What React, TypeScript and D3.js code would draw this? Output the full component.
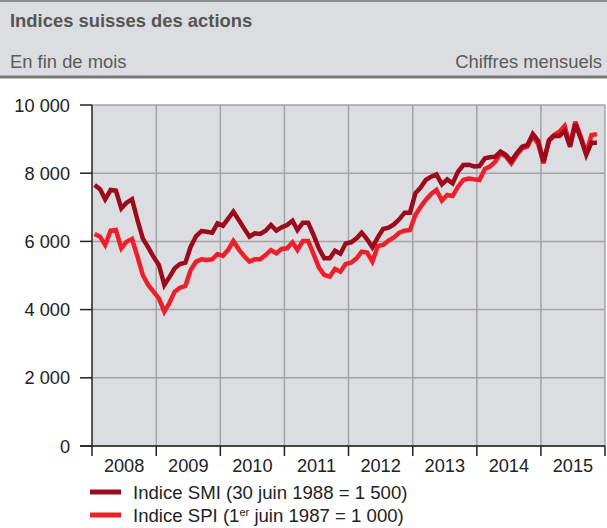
import React from "react";
import * as d3 from "d3";

const years = ["2008", "2009", "2010", "2011", "2012", "2013", "2014", "2015"];
const yTicks = [0, 2000, 4000, 6000, 8000, 10000];
const startYear = 2008;

const smi = [
  7654, 7527, 7234, 7507, 7488, 6970, 7136, 7234, 6628, 6090, 5826, 5552,
  5308, 4721, 4946, 5210, 5337, 5376, 5845, 6158, 6305, 6285, 6256, 6530,
  6461, 6676, 6872, 6628, 6383, 6139, 6237, 6217, 6315, 6481, 6315, 6413,
  6481, 6608, 6334, 6549, 6549, 6188, 5797, 5503, 5503, 5728, 5640, 5940,
  5973, 6090, 6256, 6061, 5826, 6119, 6364, 6403, 6500, 6647, 6843, 6843,
  7410, 7586, 7801, 7898, 7967, 7674, 7820, 7703, 8045, 8240, 8250, 8200,
  8211, 8436, 8465, 8485, 8631, 8534, 8358, 8583, 8778, 8827, 9150, 8954,
  8338, 8954, 9091, 9091, 9247, 8778, 9443, 9022, 8534, 8895, 8895,
];

const spi = [
  6217, 6139, 5894, 6315, 6334, 5797, 5992, 6070, 5552, 5015, 4721, 4526,
  4330, 3939, 4184, 4526, 4643, 4692, 5161, 5406, 5474, 5455, 5474, 5630,
  5577, 5767, 6012, 5767, 5572, 5406, 5474, 5474, 5601, 5748, 5650, 5777,
  5797, 5973, 5748, 6012, 6012, 5630, 5240, 5015, 4966, 5191, 5112, 5340,
  5376, 5503, 5699, 5670, 5406, 5865, 5894, 6022, 6119, 6256, 6315, 6334,
  6774, 7019, 7214, 7390, 7507, 7195, 7361, 7331, 7605, 7801, 7845, 7820,
  7801, 8123, 8192, 8338, 8583, 8485, 8289, 8534, 8729, 8778, 9091, 8856,
  8289, 8974, 9120, 9218, 9384, 8827, 9511, 9071, 8583, 9120, 9140,
];

const W = 607;
const H = 528;
const FONT = "'Liberation Sans', Arial, Helvetica, sans-serif";
const SMI_COLOR = "#9b0b1d";
const SPI_COLOR = "#ee1f2a";

export default function App() {
  const left = 92;
  const right = 605;
  const top = 105;
  const bottom = 446;

  const x = d3
    .scaleTime()
    .domain([new Date(startYear, 0, 1), new Date(startYear + years.length, 0, 1)])
    .range([left, right]);
  const y = d3.scaleLinear().domain([0, 10000]).range([bottom, top]);

  const dateOf = (i: number) => new Date(startYear, i, 16);
  const line = d3
    .line<number>()
    .x((_, i) => x(dateOf(i)))
    .y((d) => y(d))
    .curve(d3.curveLinear);

  const yearBounds = d3.range(years.length + 1).map((k) => x(new Date(startYear + k, 0, 1)));
  const fmt = (v: number) => d3.format(",")(v).replace(/,/g, " ");

  return (
    <svg
      width={W}
      height={H}
      style={{ position: "absolute", left: 0, top: 0, background: "#fff" }}
      fontFamily={FONT}
    >
      {/* header */}
      <rect x={0} y={0} width={W} height={77} fill="#dcdde0" />
      <line x1={0} x2={W} y1={1} y2={1} stroke="#8c8c8c" strokeWidth={2} />
      <line x1={0} x2={W} y1={77} y2={77} stroke="#7a7a7a" strokeWidth={3} />
      <text x={10} y={27} fontSize={18.4} fontWeight="bold" fill="#555">
        Indices suisses des actions
      </text>
      <text x={10} y={68} fontSize={18.4} fill="#5a5a5a">
        En fin de mois
      </text>
      <text x={602} y={68} fontSize={18.4} fill="#5a5a5a" textAnchor="end">
        Chiffres mensuels
      </text>

      {/* plot background */}
      <rect x={left} y={top} width={right - left} height={bottom - top} fill="#dcdde0" />

      {/* horizontal grid */}
      {yTicks.map((t) => (
        <line key={"g" + t} x1={left} x2={right} y1={y(t)} y2={y(t)} stroke="#a2a3a6" strokeWidth={1.5} />
      ))}
      {/* vertical grid */}
      {yearBounds.slice(1).map((bx, k) => (
        <line key={"v" + k} x1={bx} x2={bx} y1={top} y2={bottom} stroke="#a2a3a6" strokeWidth={1.5} />
      ))}

      {/* series */}
      <path d={line(spi) || ""} fill="none" stroke={SPI_COLOR} strokeWidth={4.5} strokeLinejoin="miter" strokeMiterlimit={3} />
      <path d={line(smi) || ""} fill="none" stroke={SMI_COLOR} strokeWidth={4.5} strokeLinejoin="miter" strokeMiterlimit={3} />

      {/* axes */}
      <line x1={left} x2={left} y1={top} y2={bottom} stroke="#222" strokeWidth={1.5} />
      <line x1={left - 12} x2={right} y1={bottom} y2={bottom} stroke="#222" strokeWidth={1.5} />
      {yTicks.map((t) => (
        <g key={"yt" + t}>
          <line x1={left - 12} x2={left} y1={y(t)} y2={y(t)} stroke="#222" strokeWidth={1.5} />
          <text x={70} y={y(t) + 6.5} fontSize={18.2} fill="#222" textAnchor="end">
            {fmt(t)}
          </text>
        </g>
      ))}
      {yearBounds.map((bx, k) => (
        <line key={"xt" + k} x1={bx} x2={bx} y1={bottom} y2={bottom + 10} stroke="#222" strokeWidth={1.5} />
      ))}
      {years.map((yr, k) => (
        <text
          key={yr}
          x={(yearBounds[k] + yearBounds[k + 1]) / 2}
          y={472}
          fontSize={18.2}
          fill="#222"
          textAnchor="middle"
        >
          {yr}
        </text>
      ))}

      {/* legend */}
      <line x1={90} x2={121} y1={492} y2={492} stroke={SMI_COLOR} strokeWidth={5} />
      <text x={133} y={498.5} fontSize={18.6} fill="#222">
        Indice SMI (30 juin 1988 = 1 500)
      </text>
      <line x1={90} x2={121} y1={515} y2={515} stroke={SPI_COLOR} strokeWidth={5} />
      <text x={133} y={521.5} fontSize={18.6} fill="#222">
        Indice SPI (1
        <tspan fontSize={11} dy={-6}>er</tspan>
        <tspan dy={6}> juin 1987 = 1 000)</tspan>
      </text>
    </svg>
  );
}
